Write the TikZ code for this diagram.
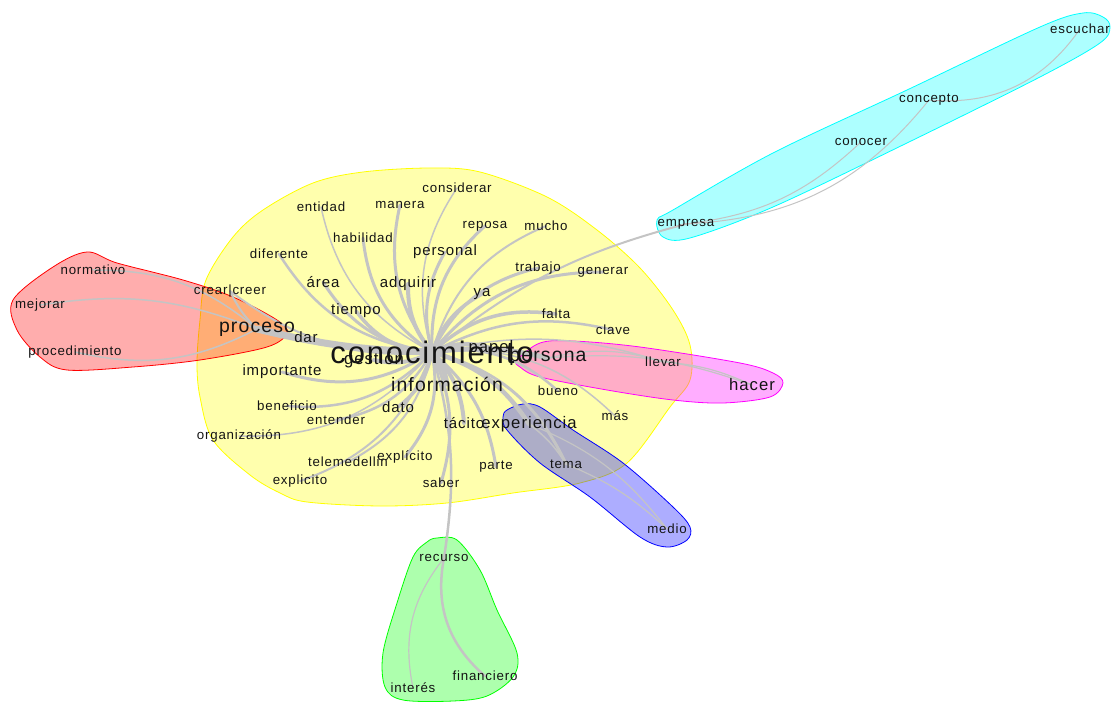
\documentclass[tikz,border=0pt]{standalone}
\usepackage{fontspec}
\setmainfont{Liberation Sans}[LetterSpace=6]
\pgfdeclarelayer{hulls}
\pgfdeclarelayer{links}
\pgfsetlayers{hulls,links,main}
\definecolor{linkgray}{RGB}{196,196,196}
\definecolor{wordcol}{RGB}{20,20,20}
\definecolor{hyellow}{RGB}{255,255,0}
\definecolor{hred}{RGB}{255,0,0}
\definecolor{hmagenta}{RGB}{255,0,255}
\definecolor{hblue}{RGB}{0,0,255}
\definecolor{hgreen}{RGB}{0,255,0}
\definecolor{hcyan}{RGB}{0,255,255}
\tikzset{
  hull/.style={draw=#1, line width=0.8pt, fill=#1, fill opacity=0.32},
  word/.style={inner sep=0pt, text=wordcol, font=\fontsize{13.3}{15}\selectfont},
  wordm/.style={word, font=\fontsize{15}{17}\selectfont},
  wordl/.style={word, font=\fontsize{16.7}{19}\selectfont},
  wordxl/.style={word, font=\fontsize{19.4}{22}\selectfont},
  wordhub/.style={word, font=\fontsize{31}{35}\selectfont},
  link/.style={draw=linkgray, line width=#1, line cap=round},
  link/.default=1.5pt
}
\begin{document}
\begin{tikzpicture}[x=1pt,y=1pt]
\useasboundingbox (0,0) rectangle (1112,-703);

% community hulls
\begin{pgfonlayer}{hulls}
\draw[hull=hyellow] plot[smooth cycle, tension=0.55] coordinates {
  (313,-183) (363,-172) (430,-168) (480,-172) (547,-197) (597,-230) (640,-268)
  (673,-310) (690,-345) (690,-380) (670,-407) (627,-463) (580,-483) (513,-493)
  (447,-503) (380,-506) (307,-502) (280,-493) (250,-475) (213,-440) (200,-397)
  (197,-363) (200,-320) (206,-280) (233,-237) (263,-210)};
\draw[hull=hred] plot[smooth cycle, tension=0.55] coordinates {
  (87,-252) (117,-263) (183,-280) (233,-297) (277,-320) (287,-333) (267,-347)
  (200,-360) (133,-367) (67,-370) (40,-357) (17,-330) (13,-300) (53,-267)};
\draw[hull=hmagenta] plot[smooth cycle, tension=0.55] coordinates {
  (517,-360) (540,-343) (573,-341) (640,-347) (740,-363) (773,-373) (783,-383)
  (770,-397) (723,-403) (673,-400) (607,-390) (540,-377) (520,-367)};
\draw[hull=hblue] plot[smooth cycle, tension=0.55] coordinates {
  (507,-410) (523,-404) (540,-407) (573,-430) (623,-463) (673,-507) (690,-527)
  (687,-540) (667,-547) (640,-537) (590,-497) (540,-463) (507,-430) (503,-417)};
\draw[hull=hgreen] plot[smooth cycle, tension=0.55] coordinates {
  (437,-538) (457,-540) (480,-570) (497,-610) (517,-653) (513,-677) (487,-696)
  (453,-701) (403,-700) (385,-687) (383,-653) (397,-603) (413,-557) (427,-542)};
\draw[hull=hcyan] plot[smooth cycle, tension=0.55] coordinates {
  (657,-220) (673,-210) (773,-153) (907,-90) (1040,-27) (1083,-13) (1103,-17)
  (1110,-27) (1100,-43) (1040,-77) (907,-143) (773,-207) (690,-238) (663,-237)};
\end{pgfonlayer}

% words
\node[wordhub] (k) at (432,-352) {conocimiento};
\node[wordl] (papel) at (491,-348) {papel};
\node[wordxl] (persona) at (548,-358) {persona};
\node[wordl] (gestion) at (374,-360) {gestión};
\node[wordxl] (informacion) at (447,-384) {información};
\node[wordxl] (proceso) at (257,-329) {proceso};
\node[wordm] (dar) at (306,-337) {dar};
\node[word] (crear) at (230,-291) {crear|creer};
\node[word] (normativo) at (93,-270) {normativo};
\node[word] (mejorar) at (40,-305) {mejorar};
\node[word] (procedimiento) at (75,-352) {procedimiento};
\node[word] (entidad) at (321,-207) {entidad};
\node[word] (manera) at (400,-205) {manera};
\node[word] (considerar) at (457,-188) {considerar};
\node[word] (habilidad) at (363,-238) {habilidad};
\node[word] (reposa) at (485,-226) {reposa};
\node[word] (mucho) at (546,-226) {mucho};
\node[word] (diferente) at (279,-254) {diferente};
\node[wordm] (personal) at (445,-252) {personal};
\node[word] (trabajo) at (538,-268) {trabajo};
\node[word] (generar) at (603,-272) {generar};
\node[wordm] (area) at (323,-282) {área};
\node[wordm] (adquirir) at (408,-284) {adquirir};
\node[wordm] (ya) at (482,-294) {ya};
\node[wordm] (tiempo) at (356,-311) {tiempo};
\node[word] (falta) at (556,-314) {falta};
\node[word] (clave) at (613,-330) {clave};
\node[wordm] (importante) at (282,-372) {importante};
\node[word] (bueno) at (558,-391) {bueno};
\node[word] (llevar) at (663,-362) {llevar};
\node[wordl] (hacer) at (752,-385) {hacer};
\node[word] (beneficio) at (287,-406) {beneficio};
\node[wordm] (dato) at (398,-407) {dato};
\node[word] (mas) at (615,-416) {más};
\node[word] (entender) at (336,-420) {entender};
\node[wordm] (tacito) at (464,-423) {tácito};
\node[wordl] (experiencia) at (529,-424) {experiencia};
\node[word] (organizacion) at (239,-436) {organización};
\node[word] (telemedellin) at (348,-462) {telemedellin};
\node[word] (explicitoR) at (405,-457) {explícito};
\node[word] (explicitoL) at (300,-481) {explicito};
\node[word] (parte) at (496,-467) {parte};
\node[word] (saber) at (441,-483) {saber};
\node[word] (tema) at (566,-464) {tema};
\node[word] (medio) at (667,-529) {medio};
\node[word] (recurso) at (444,-558) {recurso};
\node[word] (financiero) at (485,-676) {financiero};
\node[word] (interes) at (413,-688) {interés};
\node[word] (empresa) at (686,-224) {empresa};
\node[word] (conocer) at (861,-142) {conocer};
\node[word] (concepto) at (929,-100) {concepto};
\node[word] (escuchar) at (1080,-29) {escuchar};

% links
\begin{pgfonlayer}{links}
\draw[link=7pt] (k.center) to[bend left=6] (proceso.center);
\draw[link=5pt] (k.center) to[bend left=15] (informacion.center);
\draw[link=5pt] (k.center) to[bend left=10] (persona.center);
\draw[link=4pt] (k.center) to[bend left=20] (papel.center);
\draw[link=4pt] (k.center) to[bend left=20] (gestion.center);
\draw[link=4.5pt] (k.center) to[bend left=20] (experiencia.center);
\draw[link=4pt] (k.center) to[bend left=20] (adquirir.center);
\draw[link=3.5pt] (k.center) to[bend left=25] (tiempo.center);
\draw[link=3pt] (k.center) to[bend left=25] (manera.center);
\draw[link=3pt] (k.center) to[bend left=25] (habilidad.center);
\draw[link=3pt] (k.center) to[bend left=25] (area.center);
\draw[link=3pt] (k.center) to[bend left=22] (personal.center);
\draw[link=3.5pt] (k.center) to[bend left=20] (ya.center);
\draw[link=3pt] (k.center) to[bend left=25] (trabajo.center);
\draw[link=3pt] (k.center) to[bend left=25] (reposa.center);
\draw[link=3pt] (k.center) to[bend left=25] (generar.center);
\draw[link=3.5pt] (k.center) to[bend left=25] (falta.center);
\draw[link=2.5pt] (k.center) to[bend left=20] (clave.center);
\draw[link=4pt] (k.center) to[bend left=10] (dar.center);
\draw[link=3pt] (k.center) to[bend left=25] (importante.center);
\draw[link=2.5pt] (k.center) to[bend left=25] (beneficio.center);
\draw[link=3.5pt] (k.center) to[bend left=20] (dato.center);
\draw[link=2.5pt] (k.center) to[bend left=25] (entender.center);
\draw[link=4pt] (k.center) to[bend left=20] (tacito.center);
\draw[link=3pt] (k.center) to[bend left=25] (explicitoR.center);
\draw[link=2pt] (k.center) to[bend left=25] (telemedellin.center);
\draw[link=2pt] (k.center) to[bend left=25] (explicitoL.center);
\draw[link=1.5pt] (k.center) to[bend left=25] (organizacion.center);
\draw[link=3pt] (k.center) to[bend left=20] (saber.center);
\draw[link=3pt] (k.center) to[bend left=20] (parte.center);
\draw[link=3pt] (k.center) to[bend left=25] (tema.center);
\draw[link=2.5pt] (k.center) to[bend left=25] (bueno.center);
\draw[link=1.5pt] (k.center) to[bend left=25] (mas.center);
\draw[link=1.5pt] (k.center) to[bend left=25] (entidad.center);
\draw[link=1.5pt] (k.center) to[bend left=25] (considerar.center);
\draw[link=2.5pt] (k.center) to[bend left=25] (diferente.center);
\draw[link=2pt] (k.center) to[bend left=25] (mucho.center);
\draw[link=2pt] (k.center) to[bend left=12] (empresa.center);
\draw[link=2.5pt] (k.center) to[bend left=12] (recurso.center);
\draw[link=2pt] (k.center) to[bend left=20] (crear.center);
\draw[link=1.5pt] (k.center) to[bend left=15] (llevar.center);
% proceso group
\draw[link=2pt] (proceso.center) to[bend left=10] (crear.center);
\draw[link=1.5pt] (proceso.center) to[bend right=20] (normativo.center);
\draw[link=1.5pt] (proceso.center) to[bend right=15] (mejorar.center);
\draw[link=1.5pt] (proceso.center) to[bend left=20] (procedimiento.center);
% persona group
\draw[link=1.2pt] (persona.center) to[bend left=15] (llevar.center);
\draw[link=1.2pt] (llevar.center) to[bend left=10] (hacer.center);
\draw[link=1.2pt] (persona.center) to[bend left=12] (hacer.center);
% experiencia group
\draw[link=1.5pt] (experiencia.center) to[bend left=10] (tema.center);
\draw[link=1.2pt] (tema.center) to[bend left=10] (medio.center);
\draw[link=1.2pt] (experiencia.center) to[bend left=15] (medio.center);
% recurso group
\draw[link=2.5pt] (recurso.center) to[bend right=30] (financiero.center);
\draw[link=1.2pt] (recurso.center) to[bend right=25] (interes.center);
% empresa group
\draw[link=1pt] (empresa.center) to[bend right=18] (conocer.center);
\draw[link=1pt] (empresa.center) to[bend right=24] (concepto.center);
\draw[link=1pt] (concepto.center) to[bend right=30] (escuchar.center);
\end{pgfonlayer}
\end{tikzpicture}
\end{document}
